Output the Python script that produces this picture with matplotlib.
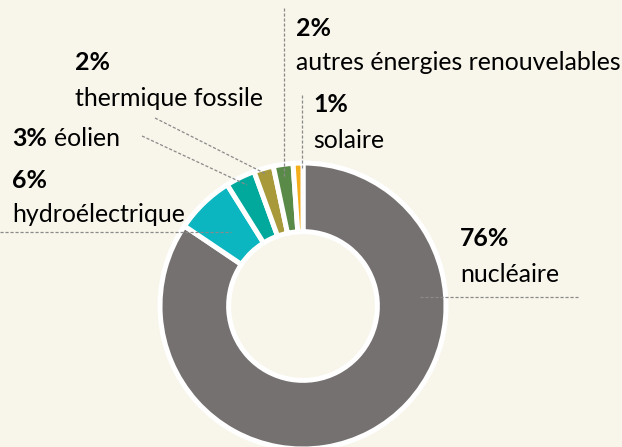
import matplotlib.pyplot as plt

# ------- data ------- #
categories = ["nucléaire", "hydroélectrique", "éolien", "thermique fossile",
              "autres énergies renouvelables", "solaire"]
shares = [76, 6, 3, 2, 2, 1]
colors = ["#767171", "#0bb6c1", "#00a99c", "#a8993b", "#5a8a48", "#f4ae1c"]

W, H = 622, 447
bg = "#f8f5ea"

fig = plt.figure(figsize=(W / 100, H / 100), dpi=100, facecolor=bg)
ax = fig.add_axes([0, 0, 1, 1])
ax.set_facecolor(bg)

cx, cy, R = 303, H - 306, 143

wedges, _ = ax.pie(shares, colors=colors, startangle=90, counterclock=False,
                   radius=R, center=(cx, cy),
                   wedgeprops=dict(width=R * 0.48, edgecolor="white", linewidth=3.6))

ax.set_xlim(0, W)
ax.set_ylim(0, H)
ax.set_aspect("equal")
ax.axis("off")

font = "Lato"
fs = 17.9


def Y(y):
    return H - y


def lead(xs, ys):
    ax.plot(xs, [Y(v) for v in ys], color="#8a8a8a", lw=0.9, ls=(0, (2.5, 1.5)), zorder=5)


def label(x, y_pct, y_name, pct, name, inline=False):
    t = ax.text(x, Y(y_pct), f"{pct}%", fontsize=fs, fontweight="bold", family=font,
                va="center", ha="left")
    if inline:
        fig.canvas.draw()
        bb = t.get_window_extent()
        ax.text(bb.x1 + 7, Y(y_pct), name, fontsize=fs, family=font, va="center", ha="left")
        return
    ax.text(x, Y(y_name), name, fontsize=fs, family=font, va="center", ha="left")


# nucléaire
label(460, 239, 274, shares[0], categories[0])
lead([420, 578], [297, 297])
# hydroélectrique
label(12, 180, 214, shares[1], categories[1])
lead([0, 231], [232, 232])
# éolien
label(12, 139, None, shares[2], categories[2], inline=True)
lead([142, 247], [136, 185])
# thermique fossile
label(75, 63, 99, shares[3], categories[3])
lead([155, 266], [118, 174])
# autres énergies renouvelables
label(296, 28, 63, shares[4], categories[4])
lead([284, 284], [8, 178])
# solaire
label(313, 104, 140, shares[5], categories[5])
lead([302, 302], [95, 168])

fig.savefig("out.png", dpi=100, facecolor=bg)
